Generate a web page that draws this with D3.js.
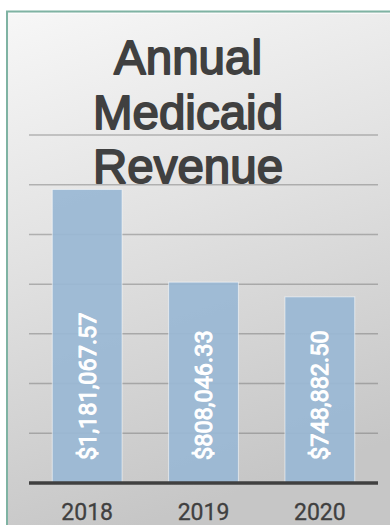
<!DOCTYPE html>
<html>
<head>
<meta charset="utf-8">
<script src="https://cdn.jsdelivr.net/npm/d3@7"></script>
<style>
  html, body { margin: 0; padding: 0; background: #ffffff; }
  svg { display: block; }
</style>
</head>
<body>
<svg id="chart" width="390" height="525"></svg>
<script>
// Annual Medicaid revenue by year
const years = ["2018", "2019", "2020"];
const revenue = [1181067.57, 808046.33, 748882.50];
const titleLines = ["Annual", "Medicaid", "Revenue"];
const gridTicks = [200000, 400000, 600000, 800000, 1000000, 1200000, 1400000];

const svg = d3.select("#chart");
const W = 390, H = 525;

// Panel background gradient
const defs = svg.append("defs");
const grad = defs.append("linearGradient")
  .attr("id", "panelBg")
  .attr("x1", "0").attr("y1", "0")
  .attr("x2", "0.25").attr("y2", "1");
grad.append("stop").attr("offset", "0").attr("stop-color", "#f7f7f7");
grad.append("stop").attr("offset", "0.45").attr("stop-color", "#e2e2e2");
grad.append("stop").attr("offset", "1").attr("stop-color", "#c6c6c6");

svg.append("rect")
  .attr("x", 8).attr("y", 12)
  .attr("width", W).attr("height", H)
  .attr("fill", "url(#panelBg)");

// Frame edges (left and top)
svg.append("line")
  .attr("x1", 7).attr("x2", 7).attr("y1", 11).attr("y2", H)
  .attr("stroke", "#7fb3a3").attr("stroke-width", 2);
svg.append("line")
  .attr("x1", 6).attr("x2", W).attr("y1", 11.5).attr("y2", 11.5)
  .attr("stroke", "#7fb3a3").attr("stroke-width", 2);
svg.append("line")
  .attr("x1", 9).attr("x2", W).attr("y1", 13.5).attr("y2", 13.5)
  .attr("stroke", "#ffffff").attr("stroke-opacity", 0.7).attr("stroke-width", 1);

// Scales
const plotLeft = 29, plotRight = 378, baseY = 483, topY = 135;
const x = d3.scaleBand().domain(years).range([plotLeft, plotRight])
  .paddingInner(0.4).paddingOuter(0.2);
const y = d3.scaleLinear().domain([0, 1400000]).range([baseY, topY]);

// Horizontal gridlines
svg.append("g").selectAll("line")
  .data(gridTicks)
  .join("line")
  .attr("x1", plotLeft).attr("x2", plotRight)
  .attr("y1", d => y(d)).attr("y2", d => y(d))
  .attr("stroke", "#6f6f6f").attr("stroke-opacity", 0.45)
  .attr("stroke-width", 1.5);

// Bars
svg.append("g").selectAll("rect")
  .data(revenue)
  .join("rect")
  .attr("x", (d, i) => x(years[i]))
  .attr("y", d => y(d))
  .attr("width", x.bandwidth())
  .attr("height", d => baseY - y(d))
  .attr("fill", "#9ab8d4").attr("fill-opacity", 0.93)
  .attr("stroke", "#ffffff").attr("stroke-opacity", 0.55).attr("stroke-width", 1);

// Value labels, rotated, reading upward from the base of each bar
const fmt = d3.format("$,.2f");
svg.append("g").selectAll("text")
  .data(revenue)
  .join("text")
  .attr("transform", (d, i) => `translate(${x(years[i]) + x.bandwidth() / 2},${baseY - 23}) rotate(-90)`)
  .attr("dy", "0.36em")
  .attr("text-anchor", "start")
  .attr("font-family", "Roboto, 'Liberation Sans', sans-serif")
  .attr("font-size", 23.5)
  .attr("fill", "#ffffff")
  .attr("stroke", "#ffffff").attr("stroke-width", 1)
  .attr("stroke-linejoin", "round")
  .text(d => fmt(d));

// Axis baseline
svg.append("line")
  .attr("x1", plotLeft).attr("x2", plotRight)
  .attr("y1", baseY).attr("y2", baseY)
  .attr("stroke", "#404040").attr("stroke-width", 3.5);

// Category labels
const xAxis = d3.axisBottom(x).tickSize(0).tickPadding(0);
const axisG = svg.append("g")
  .attr("transform", `translate(0,${baseY})`)
  .call(xAxis);
axisG.select(".domain").remove();
axisG.selectAll("text")
  .attr("y", 37)
  .attr("dy", 0)
  .attr("font-family", "Roboto, 'Liberation Sans', sans-serif")
  .attr("font-size", 23)
  .attr("fill", "#404040")
  .attr("stroke", "#404040").attr("stroke-width", 0.3);

// Title
svg.append("g").selectAll("text")
  .data(titleLines)
  .join("text")
  .attr("x", 188)
  .attr("y", (d, i) => 74 + i * 54.5)
  .attr("text-anchor", "middle")
  .attr("font-family", "'Liberation Sans', Arial, sans-serif")
  .attr("font-size", 47.5)
  .attr("fill", "#404040")
  .attr("stroke", "#404040").attr("stroke-width", 1.8)
  .attr("stroke-linejoin", "round")
  .text(d => d);
</script>
</body>
</html>
